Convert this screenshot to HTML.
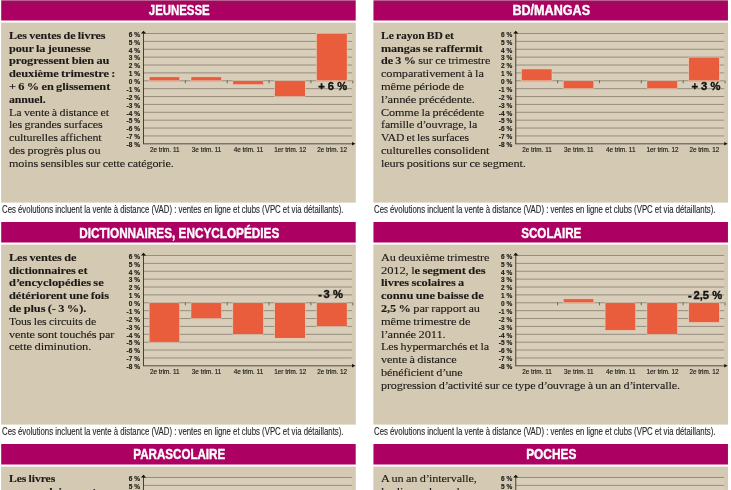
<!DOCTYPE html>
<html lang="fr"><head><meta charset="utf-8"><title>Ventes de livres</title>
<style>
html,body{margin:0;padding:0;background:#fff;}
body{width:731px;height:490px;overflow:hidden;position:relative;font-family:"Liberation Serif",serif;}
.panel{position:absolute;width:354.5px;height:222px;will-change:transform;}
.hdr{position:absolute;left:0;top:0;width:354.5px;height:20.5px;}
.hdr span{position:absolute;left:0.8px;top:0;width:354.5px;text-align:center;font-family:"Liberation Sans",sans-serif;font-weight:bold;font-size:14px;line-height:16px;top:2.9px;color:#fff;white-space:nowrap;-webkit-text-stroke:0.4px #fff;transform-origin:50% 50%;}
.txt{position:absolute;left:7.8px;top:28.75px;font-family:"Liberation Serif",serif;font-size:11.2px;line-height:12.8px;word-spacing:-0.4px;letter-spacing:-0.12px;color:#1c1a17;-webkit-text-stroke:0.1px #1c1a17;white-space:nowrap;transform:translateY(-0.3px) scaleX(1.095);transform-origin:0 0;}
.ln{display:inline-block;transform-origin:0 50%;}
.ap{letter-spacing:-0.9px;}
.txt b{font-weight:bold;-webkit-text-stroke:0.1px #1c1a17;letter-spacing:-0.08px;word-spacing:-0.55px;}
.chart{position:absolute;left:0;top:0;overflow:visible;}
.yl{font-family:"Liberation Sans",sans-serif;font-weight:bold;font-size:6.5px;fill:#1c1a17;stroke:#1c1a17;stroke-width:0.15px;letter-spacing:0.1px;}
.xl{font-family:"Liberation Sans",sans-serif;font-size:6.35px;fill:#1c1a17;stroke:#1c1a17;stroke-width:0.15px;}
.vl{font-family:"Liberation Sans",sans-serif;font-weight:bold;font-size:11.2px;fill:#111;stroke:#111;stroke-width:0.35px;letter-spacing:0px;}
.cap{position:absolute;left:-0.2px;top:204.1px;font-family:"Liberation Sans",sans-serif;font-size:10px;line-height:11px;color:#262626;-webkit-text-stroke:0.12px #262626;white-space:nowrap;transform:scaleX(0.779);transform-origin:0 50%;}
</style></head><body>
<svg width="0" height="0" style="position:absolute"><defs><linearGradient id="hg" x1="0" y1="0" x2="0" y2="1"><stop offset="0" stop-color="#A0095C"/><stop offset="0.15" stop-color="#A0095C"/><stop offset="0.27" stop-color="#AC0062"/><stop offset="1" stop-color="#AC0062"/></linearGradient></defs></svg>
<div class="panel" style="left:1px;top:0px">
<svg class="chart" width="356.5" height="222" viewBox="0 0 356.5 222">
<g transform="translate(0.20,0)">
<rect x="0" y="0.35" width="354.5" height="20.15" fill="url(#hg)"/>
<rect x="-0.1" y="22.6" width="354.7" height="180" fill="#D4C9B3" fill-opacity="0.996"/>
<rect x="142.3" y="33.50" width="208.40" height="110.32" fill="#D8CEB9"/>
<line x1="142.3" y1="33.50" x2="350.7" y2="33.50" stroke="#80786A" stroke-width="0.75"/>
<line x1="142.3" y1="41.38" x2="350.7" y2="41.38" stroke="#80786A" stroke-width="0.75"/>
<line x1="142.3" y1="49.26" x2="350.7" y2="49.26" stroke="#80786A" stroke-width="0.75"/>
<line x1="142.3" y1="57.14" x2="350.7" y2="57.14" stroke="#80786A" stroke-width="0.75"/>
<line x1="142.3" y1="65.02" x2="350.7" y2="65.02" stroke="#80786A" stroke-width="0.75"/>
<line x1="142.3" y1="72.90" x2="350.7" y2="72.90" stroke="#80786A" stroke-width="0.75"/>
<line x1="142.3" y1="80.78" x2="350.7" y2="80.78" stroke="#80786A" stroke-width="0.75"/>
<line x1="142.3" y1="88.66" x2="350.7" y2="88.66" stroke="#80786A" stroke-width="0.75"/>
<line x1="142.3" y1="96.54" x2="350.7" y2="96.54" stroke="#80786A" stroke-width="0.75"/>
<line x1="142.3" y1="104.42" x2="350.7" y2="104.42" stroke="#80786A" stroke-width="0.75"/>
<line x1="142.3" y1="112.30" x2="350.7" y2="112.30" stroke="#80786A" stroke-width="0.75"/>
<line x1="142.3" y1="120.18" x2="350.7" y2="120.18" stroke="#80786A" stroke-width="0.75"/>
<line x1="142.3" y1="128.06" x2="350.7" y2="128.06" stroke="#80786A" stroke-width="0.75"/>
<line x1="142.3" y1="135.94" x2="350.7" y2="135.94" stroke="#80786A" stroke-width="0.75"/>
<line x1="141.8" y1="143.82" x2="351.2" y2="143.82" stroke="#3b3732" stroke-width="0.85"/>
<line x1="142.3" y1="31.50" x2="142.3" y2="143.82" stroke="#35312c" stroke-width="0.9"/>
<path d="M139.70000000000002 33.60 L142.3 30.80 L144.9 33.60 Z" fill="#111"/>
<path d="M350.80 141.92 L354.20 143.72 L350.80 145.52 Z" fill="#111"/>
<line x1="184.15" y1="80.48" x2="184.15" y2="83.28" stroke="#35312c" stroke-width="0.65"/>
<line x1="226.00" y1="80.48" x2="226.00" y2="83.28" stroke="#35312c" stroke-width="0.65"/>
<line x1="267.85" y1="80.48" x2="267.85" y2="83.28" stroke="#35312c" stroke-width="0.65"/>
<line x1="309.70" y1="80.48" x2="309.70" y2="83.28" stroke="#35312c" stroke-width="0.65"/>
<line x1="351.55" y1="80.48" x2="351.55" y2="83.28" stroke="#35312c" stroke-width="0.65"/>
<rect x="147.93" y="76.84" width="30.6" height="3.94" fill="#E95D3C" stroke="#EBDCC8" stroke-width="0.5"/>
<rect x="189.78" y="76.84" width="30.6" height="3.94" fill="#E95D3C" stroke="#EBDCC8" stroke-width="0.5"/>
<rect x="231.62" y="80.78" width="30.6" height="3.94" fill="#E95D3C" stroke="#EBDCC8" stroke-width="0.5"/>
<rect x="273.47" y="80.78" width="30.6" height="15.76" fill="#E95D3C" stroke="#EBDCC8" stroke-width="0.5"/>
<rect x="315.32" y="33.50" width="30.6" height="47.28" fill="#E95D3C" stroke="#EBDCC8" stroke-width="0.5"/>
<g opacity="0.999">
<text x="139.00" y="36.80" text-anchor="end" class="yl">6 %</text>
<text x="139.00" y="44.68" text-anchor="end" class="yl">5 %</text>
<text x="139.00" y="52.56" text-anchor="end" class="yl">4 %</text>
<text x="139.00" y="60.44" text-anchor="end" class="yl">3 %</text>
<text x="139.00" y="68.32" text-anchor="end" class="yl">2 %</text>
<text x="139.00" y="76.20" text-anchor="end" class="yl">1 %</text>
<text x="139.00" y="84.08" text-anchor="end" class="yl">0 %</text>
<text x="139.00" y="91.96" text-anchor="end" class="yl">-1 %</text>
<text x="139.00" y="99.84" text-anchor="end" class="yl">-2 %</text>
<text x="139.00" y="107.72" text-anchor="end" class="yl">-3 %</text>
<text x="139.00" y="115.60" text-anchor="end" class="yl">-4 %</text>
<text x="139.00" y="123.48" text-anchor="end" class="yl">-5 %</text>
<text x="139.00" y="131.36" text-anchor="end" class="yl">-6 %</text>
<text x="139.00" y="139.24" text-anchor="end" class="yl">-7 %</text>
<text x="139.00" y="147.12" text-anchor="end" class="yl">-8 %</text>
<text x="163.53" y="151.8" text-anchor="middle" class="xl">2e trim. 11</text>
<text x="205.38" y="151.8" text-anchor="middle" class="xl">3e trim. 11</text>
<text x="247.23" y="151.8" text-anchor="middle" class="xl">4e trim. 11</text>
<text x="289.07" y="151.8" text-anchor="middle" class="xl">1er trim. 12</text>
<text x="330.93" y="151.8" text-anchor="middle" class="xl">2e trim. 12</text>
<text x="345.90" y="89.98" text-anchor="end" class="vl">+ 6 %</text>
</g></g></svg>
<div class="hdr"><span style="left:1.00px;top:2.4px;transform:scaleX(0.815)">JEUNESSE</span></div>
<div class="txt" style="left:8.00px;transform:translateY(-0.3px) scaleX(1.095)"><span class="ln" style="transform:scaleX(0.9911)"><b>Les ventes de livres</b></span><br><span class="ln" style="transform:scaleX(1.0019)"><b>pour la jeunesse</b></span><br><span class="ln" style="transform:scaleX(1.0084)"><b>progressent bien au</b></span><br><span class="ln" style="transform:scaleX(1.0124)"><b>deuxième trimestre :</b></span><br><span class="ln" style="transform:scaleX(1.0095)"><b>+ 6 % en glissement</b></span><br><span class="ln" style="transform:scaleX(0.9675)"><b>annuel.</b></span><br><span class="ln" style="transform:scaleX(0.9844)">La vente à distance et</span><br><span class="ln" style="transform:scaleX(0.9911)">les grandes surfaces</span><br><span class="ln" style="transform:scaleX(0.9823)">culturelles affichent</span><br><span class="ln" style="transform:scaleX(1.0030)">des progrès plus ou</span><br><span class="ln" style="transform:scaleX(0.9920)">moins sensibles sur cette catégorie.</span></div>
<div class="cap" style="left:0.50px">Ces évolutions incluent la vente à distance (VAD) : ventes en ligne et clubs (VPC et via détaillants).</div>
</div>
<div class="panel" style="left:373px;top:0px">
<svg class="chart" width="356.5" height="222" viewBox="0 0 356.5 222">
<g transform="translate(0.45,0)">
<rect x="0" y="0.35" width="354.5" height="20.15" fill="url(#hg)"/>
<rect x="-0.1" y="22.6" width="354.7" height="180" fill="#D4C9B3" fill-opacity="0.996"/>
<rect x="142.3" y="33.50" width="208.40" height="110.32" fill="#D8CEB9"/>
<line x1="142.3" y1="33.50" x2="350.7" y2="33.50" stroke="#80786A" stroke-width="0.75"/>
<line x1="142.3" y1="41.38" x2="350.7" y2="41.38" stroke="#80786A" stroke-width="0.75"/>
<line x1="142.3" y1="49.26" x2="350.7" y2="49.26" stroke="#80786A" stroke-width="0.75"/>
<line x1="142.3" y1="57.14" x2="350.7" y2="57.14" stroke="#80786A" stroke-width="0.75"/>
<line x1="142.3" y1="65.02" x2="350.7" y2="65.02" stroke="#80786A" stroke-width="0.75"/>
<line x1="142.3" y1="72.90" x2="350.7" y2="72.90" stroke="#80786A" stroke-width="0.75"/>
<line x1="142.3" y1="80.78" x2="350.7" y2="80.78" stroke="#80786A" stroke-width="0.75"/>
<line x1="142.3" y1="88.66" x2="350.7" y2="88.66" stroke="#80786A" stroke-width="0.75"/>
<line x1="142.3" y1="96.54" x2="350.7" y2="96.54" stroke="#80786A" stroke-width="0.75"/>
<line x1="142.3" y1="104.42" x2="350.7" y2="104.42" stroke="#80786A" stroke-width="0.75"/>
<line x1="142.3" y1="112.30" x2="350.7" y2="112.30" stroke="#80786A" stroke-width="0.75"/>
<line x1="142.3" y1="120.18" x2="350.7" y2="120.18" stroke="#80786A" stroke-width="0.75"/>
<line x1="142.3" y1="128.06" x2="350.7" y2="128.06" stroke="#80786A" stroke-width="0.75"/>
<line x1="142.3" y1="135.94" x2="350.7" y2="135.94" stroke="#80786A" stroke-width="0.75"/>
<line x1="141.8" y1="143.82" x2="351.2" y2="143.82" stroke="#3b3732" stroke-width="0.85"/>
<line x1="142.3" y1="31.50" x2="142.3" y2="143.82" stroke="#35312c" stroke-width="0.9"/>
<path d="M139.70000000000002 33.60 L142.3 30.80 L144.9 33.60 Z" fill="#111"/>
<path d="M350.80 141.92 L354.20 143.72 L350.80 145.52 Z" fill="#111"/>
<line x1="184.15" y1="80.48" x2="184.15" y2="83.28" stroke="#35312c" stroke-width="0.65"/>
<line x1="226.00" y1="80.48" x2="226.00" y2="83.28" stroke="#35312c" stroke-width="0.65"/>
<line x1="267.85" y1="80.48" x2="267.85" y2="83.28" stroke="#35312c" stroke-width="0.65"/>
<line x1="309.70" y1="80.48" x2="309.70" y2="83.28" stroke="#35312c" stroke-width="0.65"/>
<line x1="351.55" y1="80.48" x2="351.55" y2="83.28" stroke="#35312c" stroke-width="0.65"/>
<rect x="147.93" y="68.96" width="30.6" height="11.82" fill="#E95D3C" stroke="#EBDCC8" stroke-width="0.5"/>
<rect x="189.78" y="80.78" width="30.6" height="7.88" fill="#E95D3C" stroke="#EBDCC8" stroke-width="0.5"/>
<rect x="273.47" y="80.78" width="30.6" height="7.88" fill="#E95D3C" stroke="#EBDCC8" stroke-width="0.5"/>
<rect x="315.32" y="57.14" width="30.6" height="23.64" fill="#E95D3C" stroke="#EBDCC8" stroke-width="0.5"/>
<g opacity="0.999">
<text x="139.00" y="36.80" text-anchor="end" class="yl">6 %</text>
<text x="139.00" y="44.68" text-anchor="end" class="yl">5 %</text>
<text x="139.00" y="52.56" text-anchor="end" class="yl">4 %</text>
<text x="139.00" y="60.44" text-anchor="end" class="yl">3 %</text>
<text x="139.00" y="68.32" text-anchor="end" class="yl">2 %</text>
<text x="139.00" y="76.20" text-anchor="end" class="yl">1 %</text>
<text x="139.00" y="84.08" text-anchor="end" class="yl">0 %</text>
<text x="139.00" y="91.96" text-anchor="end" class="yl">-1 %</text>
<text x="139.00" y="99.84" text-anchor="end" class="yl">-2 %</text>
<text x="139.00" y="107.72" text-anchor="end" class="yl">-3 %</text>
<text x="139.00" y="115.60" text-anchor="end" class="yl">-4 %</text>
<text x="139.00" y="123.48" text-anchor="end" class="yl">-5 %</text>
<text x="139.00" y="131.36" text-anchor="end" class="yl">-6 %</text>
<text x="139.00" y="139.24" text-anchor="end" class="yl">-7 %</text>
<text x="139.00" y="147.12" text-anchor="end" class="yl">-8 %</text>
<text x="163.53" y="151.8" text-anchor="middle" class="xl">2e trim. 11</text>
<text x="205.38" y="151.8" text-anchor="middle" class="xl">3e trim. 11</text>
<text x="247.23" y="151.8" text-anchor="middle" class="xl">4e trim. 11</text>
<text x="289.07" y="151.8" text-anchor="middle" class="xl">1er trim. 12</text>
<text x="330.93" y="151.8" text-anchor="middle" class="xl">2e trim. 12</text>
<text x="346.90" y="90.18" text-anchor="end" class="vl">+ 3 %</text>
</g></g></svg>
<div class="hdr"><span style="left:1.25px;top:2.4px;transform:scaleX(0.9)">BD/MANGAS</span></div>
<div class="txt" style="left:8.25px;transform:translateY(-0.3px) scaleX(1.095)"><span class="ln" style="transform:scaleX(0.9476)"><b>Le rayon BD et</b></span><br><span class="ln" style="transform:scaleX(0.9960)"><b>mangas se raffermit</b></span><br><span class="ln" style="transform:scaleX(0.9926)"><b>de 3 %</b> sur ce trimestre</span><br><span class="ln" style="transform:scaleX(1.0078)">comparativement à la</span><br><span class="ln" style="transform:scaleX(1.0182)">même période de</span><br><span class="ln" style="transform:scaleX(1.0252)">l<span class="ap">’</span>année précédente.</span><br><span class="ln" style="transform:scaleX(0.9973)">Comme la précédente</span><br><span class="ln" style="transform:scaleX(0.9829)">famille d<span class="ap">’</span>ouvrage, la</span><br><span class="ln" style="transform:scaleX(0.9465)">VAD et les surfaces</span><br><span class="ln" style="transform:scaleX(1.0118)">culturelles consolident</span><br><span class="ln" style="transform:scaleX(1.0030)">leurs positions sur ce segment.</span></div>
<div class="cap" style="left:0.75px">Ces évolutions incluent la vente à distance (VAD) : ventes en ligne et clubs (VPC et via détaillants).</div>
</div>
<div class="panel" style="left:1px;top:222px">
<svg class="chart" width="356.5" height="222" viewBox="0 0 356.5 222">
<g transform="translate(0.20,0)">
<rect x="0" y="0" width="354.5" height="20.5" fill="#AC0062"/>
<rect x="-0.1" y="22.6" width="354.7" height="180" fill="#D4C9B3" fill-opacity="0.996"/>
<rect x="142.3" y="33.50" width="208.40" height="110.32" fill="#D8CEB9"/>
<line x1="142.3" y1="33.50" x2="350.7" y2="33.50" stroke="#80786A" stroke-width="0.75"/>
<line x1="142.3" y1="41.38" x2="350.7" y2="41.38" stroke="#80786A" stroke-width="0.75"/>
<line x1="142.3" y1="49.26" x2="350.7" y2="49.26" stroke="#80786A" stroke-width="0.75"/>
<line x1="142.3" y1="57.14" x2="350.7" y2="57.14" stroke="#80786A" stroke-width="0.75"/>
<line x1="142.3" y1="65.02" x2="350.7" y2="65.02" stroke="#80786A" stroke-width="0.75"/>
<line x1="142.3" y1="72.90" x2="350.7" y2="72.90" stroke="#80786A" stroke-width="0.75"/>
<line x1="142.3" y1="80.78" x2="350.7" y2="80.78" stroke="#80786A" stroke-width="0.75"/>
<line x1="142.3" y1="88.66" x2="350.7" y2="88.66" stroke="#80786A" stroke-width="0.75"/>
<line x1="142.3" y1="96.54" x2="350.7" y2="96.54" stroke="#80786A" stroke-width="0.75"/>
<line x1="142.3" y1="104.42" x2="350.7" y2="104.42" stroke="#80786A" stroke-width="0.75"/>
<line x1="142.3" y1="112.30" x2="350.7" y2="112.30" stroke="#80786A" stroke-width="0.75"/>
<line x1="142.3" y1="120.18" x2="350.7" y2="120.18" stroke="#80786A" stroke-width="0.75"/>
<line x1="142.3" y1="128.06" x2="350.7" y2="128.06" stroke="#80786A" stroke-width="0.75"/>
<line x1="142.3" y1="135.94" x2="350.7" y2="135.94" stroke="#80786A" stroke-width="0.75"/>
<line x1="141.8" y1="143.82" x2="351.2" y2="143.82" stroke="#3b3732" stroke-width="0.85"/>
<line x1="142.3" y1="31.50" x2="142.3" y2="143.82" stroke="#35312c" stroke-width="0.9"/>
<path d="M139.70000000000002 33.60 L142.3 30.80 L144.9 33.60 Z" fill="#111"/>
<path d="M350.80 141.92 L354.20 143.72 L350.80 145.52 Z" fill="#111"/>
<line x1="184.15" y1="80.48" x2="184.15" y2="83.28" stroke="#35312c" stroke-width="0.65"/>
<line x1="226.00" y1="80.48" x2="226.00" y2="83.28" stroke="#35312c" stroke-width="0.65"/>
<line x1="267.85" y1="80.48" x2="267.85" y2="83.28" stroke="#35312c" stroke-width="0.65"/>
<line x1="309.70" y1="80.48" x2="309.70" y2="83.28" stroke="#35312c" stroke-width="0.65"/>
<line x1="351.55" y1="80.48" x2="351.55" y2="83.28" stroke="#35312c" stroke-width="0.65"/>
<rect x="147.93" y="80.78" width="30.6" height="39.40" fill="#E95D3C" stroke="#EBDCC8" stroke-width="0.5"/>
<rect x="189.78" y="80.78" width="30.6" height="15.76" fill="#E95D3C" stroke="#EBDCC8" stroke-width="0.5"/>
<rect x="231.62" y="80.78" width="30.6" height="31.52" fill="#E95D3C" stroke="#EBDCC8" stroke-width="0.5"/>
<rect x="273.47" y="80.78" width="30.6" height="35.46" fill="#E95D3C" stroke="#EBDCC8" stroke-width="0.5"/>
<rect x="315.32" y="80.78" width="30.6" height="23.64" fill="#E95D3C" stroke="#EBDCC8" stroke-width="0.5"/>
<g opacity="0.999">
<text x="139.00" y="36.80" text-anchor="end" class="yl">6 %</text>
<text x="139.00" y="44.68" text-anchor="end" class="yl">5 %</text>
<text x="139.00" y="52.56" text-anchor="end" class="yl">4 %</text>
<text x="139.00" y="60.44" text-anchor="end" class="yl">3 %</text>
<text x="139.00" y="68.32" text-anchor="end" class="yl">2 %</text>
<text x="139.00" y="76.20" text-anchor="end" class="yl">1 %</text>
<text x="139.00" y="84.08" text-anchor="end" class="yl">0 %</text>
<text x="139.00" y="91.96" text-anchor="end" class="yl">-1 %</text>
<text x="139.00" y="99.84" text-anchor="end" class="yl">-2 %</text>
<text x="139.00" y="107.72" text-anchor="end" class="yl">-3 %</text>
<text x="139.00" y="115.60" text-anchor="end" class="yl">-4 %</text>
<text x="139.00" y="123.48" text-anchor="end" class="yl">-5 %</text>
<text x="139.00" y="131.36" text-anchor="end" class="yl">-6 %</text>
<text x="139.00" y="139.24" text-anchor="end" class="yl">-7 %</text>
<text x="139.00" y="147.12" text-anchor="end" class="yl">-8 %</text>
<text x="163.53" y="151.8" text-anchor="middle" class="xl">2e trim. 11</text>
<text x="205.38" y="151.8" text-anchor="middle" class="xl">3e trim. 11</text>
<text x="247.23" y="151.8" text-anchor="middle" class="xl">4e trim. 11</text>
<text x="289.07" y="151.8" text-anchor="middle" class="xl">1er trim. 12</text>
<text x="330.93" y="151.8" text-anchor="middle" class="xl">2e trim. 12</text>
<text x="341.70" y="75.68" text-anchor="end" class="vl">-<tspan dx="1.6">3 %</tspan></text>
</g></g></svg>
<div class="hdr"><span style="left:1.00px;top:2.9px;transform:scaleX(0.84)">DICTIONNAIRES, ENCYCLOPÉDIES</span></div>
<div class="txt" style="left:8.00px;transform:translateY(-0.3px) scaleX(1.095)"><span class="ln" style="transform:scaleX(1.0034)"><b>Les ventes de</b></span><br><span class="ln" style="transform:scaleX(1.0000)"><b>dictionnaires et</b></span><br><span class="ln" style="transform:scaleX(1.0221)"><b>d<span class="ap">’</span>encyclopédies se</b></span><br><span class="ln" style="transform:scaleX(1.0102)"><b>détériorent une fois</b></span><br><span class="ln" style="transform:scaleX(1.0139)"><b>de plus (- 3 %).</b></span><br><span class="ln" style="transform:scaleX(0.9657)">Tous les circuits de</span><br><span class="ln" style="transform:scaleX(1.0023)">vente sont touchés par</span><br><span class="ln" style="transform:scaleX(1.0227)">cette diminution.</span></div>
<div class="cap" style="left:0.50px">Ces évolutions incluent la vente à distance (VAD) : ventes en ligne et clubs (VPC et via détaillants).</div>
</div>
<div class="panel" style="left:373px;top:222px">
<svg class="chart" width="356.5" height="222" viewBox="0 0 356.5 222">
<g transform="translate(0.45,0)">
<rect x="0" y="0" width="354.5" height="20.5" fill="#AC0062"/>
<rect x="-0.1" y="22.6" width="354.7" height="180" fill="#D4C9B3" fill-opacity="0.996"/>
<rect x="142.3" y="33.50" width="208.40" height="110.32" fill="#D8CEB9"/>
<line x1="142.3" y1="33.50" x2="350.7" y2="33.50" stroke="#80786A" stroke-width="0.75"/>
<line x1="142.3" y1="41.38" x2="350.7" y2="41.38" stroke="#80786A" stroke-width="0.75"/>
<line x1="142.3" y1="49.26" x2="350.7" y2="49.26" stroke="#80786A" stroke-width="0.75"/>
<line x1="142.3" y1="57.14" x2="350.7" y2="57.14" stroke="#80786A" stroke-width="0.75"/>
<line x1="142.3" y1="65.02" x2="350.7" y2="65.02" stroke="#80786A" stroke-width="0.75"/>
<line x1="142.3" y1="72.90" x2="350.7" y2="72.90" stroke="#80786A" stroke-width="0.75"/>
<line x1="142.3" y1="80.78" x2="350.7" y2="80.78" stroke="#80786A" stroke-width="0.75"/>
<line x1="142.3" y1="88.66" x2="350.7" y2="88.66" stroke="#80786A" stroke-width="0.75"/>
<line x1="142.3" y1="96.54" x2="350.7" y2="96.54" stroke="#80786A" stroke-width="0.75"/>
<line x1="142.3" y1="104.42" x2="350.7" y2="104.42" stroke="#80786A" stroke-width="0.75"/>
<line x1="142.3" y1="112.30" x2="350.7" y2="112.30" stroke="#80786A" stroke-width="0.75"/>
<line x1="142.3" y1="120.18" x2="350.7" y2="120.18" stroke="#80786A" stroke-width="0.75"/>
<line x1="142.3" y1="128.06" x2="350.7" y2="128.06" stroke="#80786A" stroke-width="0.75"/>
<line x1="142.3" y1="135.94" x2="350.7" y2="135.94" stroke="#80786A" stroke-width="0.75"/>
<line x1="141.8" y1="143.82" x2="351.2" y2="143.82" stroke="#3b3732" stroke-width="0.85"/>
<line x1="142.3" y1="31.50" x2="142.3" y2="143.82" stroke="#35312c" stroke-width="0.9"/>
<path d="M139.70000000000002 33.60 L142.3 30.80 L144.9 33.60 Z" fill="#111"/>
<path d="M350.80 141.92 L354.20 143.72 L350.80 145.52 Z" fill="#111"/>
<line x1="184.15" y1="80.48" x2="184.15" y2="83.28" stroke="#35312c" stroke-width="0.65"/>
<line x1="226.00" y1="80.48" x2="226.00" y2="83.28" stroke="#35312c" stroke-width="0.65"/>
<line x1="267.85" y1="80.48" x2="267.85" y2="83.28" stroke="#35312c" stroke-width="0.65"/>
<line x1="309.70" y1="80.48" x2="309.70" y2="83.28" stroke="#35312c" stroke-width="0.65"/>
<line x1="351.55" y1="80.48" x2="351.55" y2="83.28" stroke="#35312c" stroke-width="0.65"/>
<rect x="189.78" y="76.84" width="30.6" height="3.94" fill="#E95D3C" stroke="#EBDCC8" stroke-width="0.5"/>
<rect x="231.62" y="80.78" width="30.6" height="27.58" fill="#E95D3C" stroke="#EBDCC8" stroke-width="0.5"/>
<rect x="273.47" y="80.78" width="30.6" height="31.52" fill="#E95D3C" stroke="#EBDCC8" stroke-width="0.5"/>
<rect x="315.32" y="80.78" width="30.6" height="19.70" fill="#E95D3C" stroke="#EBDCC8" stroke-width="0.5"/>
<g opacity="0.999">
<text x="139.00" y="36.80" text-anchor="end" class="yl">6 %</text>
<text x="139.00" y="44.68" text-anchor="end" class="yl">5 %</text>
<text x="139.00" y="52.56" text-anchor="end" class="yl">4 %</text>
<text x="139.00" y="60.44" text-anchor="end" class="yl">3 %</text>
<text x="139.00" y="68.32" text-anchor="end" class="yl">2 %</text>
<text x="139.00" y="76.20" text-anchor="end" class="yl">1 %</text>
<text x="139.00" y="84.08" text-anchor="end" class="yl">0 %</text>
<text x="139.00" y="91.96" text-anchor="end" class="yl">-1 %</text>
<text x="139.00" y="99.84" text-anchor="end" class="yl">-2 %</text>
<text x="139.00" y="107.72" text-anchor="end" class="yl">-3 %</text>
<text x="139.00" y="115.60" text-anchor="end" class="yl">-4 %</text>
<text x="139.00" y="123.48" text-anchor="end" class="yl">-5 %</text>
<text x="139.00" y="131.36" text-anchor="end" class="yl">-6 %</text>
<text x="139.00" y="139.24" text-anchor="end" class="yl">-7 %</text>
<text x="139.00" y="147.12" text-anchor="end" class="yl">-8 %</text>
<text x="163.53" y="151.8" text-anchor="middle" class="xl">2e trim. 11</text>
<text x="205.38" y="151.8" text-anchor="middle" class="xl">3e trim. 11</text>
<text x="247.23" y="151.8" text-anchor="middle" class="xl">4e trim. 11</text>
<text x="289.07" y="151.8" text-anchor="middle" class="xl">1er trim. 12</text>
<text x="330.93" y="151.8" text-anchor="middle" class="xl">2e trim. 12</text>
<text x="348.70" y="76.63" text-anchor="end" class="vl">-<tspan dx="1.8">2,5 %</tspan></text>
</g></g></svg>
<div class="hdr"><span style="left:1.25px;top:2.9px;transform:scaleX(0.83)">SCOLAIRE</span></div>
<div class="txt" style="left:8.25px;transform:translateY(-0.3px) scaleX(1.095)"><span class="ln" style="transform:scaleX(0.9972)">Au deuxième trimestre</span><br><span class="ln" style="transform:scaleX(1.0261)">2012, l<b>e segment des</b></span><br><span class="ln" style="transform:scaleX(1.0084)"><b>livres scolaires a</b></span><br><span class="ln" style="transform:scaleX(1.0227)"><b>connu une baisse de</b></span><br><span class="ln" style="transform:scaleX(1.0078)"><b>2,5 %</b> par rapport au</span><br><span class="ln" style="transform:scaleX(1.0138)">même trimestre de</span><br><span class="ln" style="transform:scaleX(1.0204)">l<span class="ap">’</span>année 2011.</span><br><span class="ln" style="transform:scaleX(0.9894)">Les hypermarchés et la</span><br><span class="ln" style="transform:scaleX(1.0033)">vente à distance</span><br><span class="ln" style="transform:scaleX(0.9974)">bénéficient d<span class="ap">’</span>une</span><br><span class="ln" style="transform:scaleX(0.9926)">progression d<span class="ap">’</span>activité sur ce type d<span class="ap">’</span>ouvrage à un an d<span class="ap">’</span>intervalle.</span></div>
<div class="cap" style="left:0.75px">Ces évolutions incluent la vente à distance (VAD) : ventes en ligne et clubs (VPC et via détaillants).</div>
</div>
<div class="panel" style="left:1px;top:444px">
<svg class="chart" width="356.5" height="222" viewBox="0 0 356.5 222">
<g transform="translate(0.20,0)">
<rect x="0" y="0" width="354.5" height="20.5" fill="#AC0062"/>
<rect x="-0.1" y="22.6" width="354.7" height="180" fill="#D4C9B3" fill-opacity="0.996"/>
<rect x="142.3" y="33.50" width="208.40" height="110.32" fill="#D8CEB9"/>
<line x1="142.3" y1="33.50" x2="350.7" y2="33.50" stroke="#80786A" stroke-width="0.75"/>
<line x1="142.3" y1="41.38" x2="350.7" y2="41.38" stroke="#80786A" stroke-width="0.75"/>
<line x1="142.3" y1="49.26" x2="350.7" y2="49.26" stroke="#80786A" stroke-width="0.75"/>
<line x1="142.3" y1="57.14" x2="350.7" y2="57.14" stroke="#80786A" stroke-width="0.75"/>
<line x1="142.3" y1="65.02" x2="350.7" y2="65.02" stroke="#80786A" stroke-width="0.75"/>
<line x1="142.3" y1="72.90" x2="350.7" y2="72.90" stroke="#80786A" stroke-width="0.75"/>
<line x1="142.3" y1="80.78" x2="350.7" y2="80.78" stroke="#80786A" stroke-width="0.75"/>
<line x1="142.3" y1="88.66" x2="350.7" y2="88.66" stroke="#80786A" stroke-width="0.75"/>
<line x1="142.3" y1="96.54" x2="350.7" y2="96.54" stroke="#80786A" stroke-width="0.75"/>
<line x1="142.3" y1="104.42" x2="350.7" y2="104.42" stroke="#80786A" stroke-width="0.75"/>
<line x1="142.3" y1="112.30" x2="350.7" y2="112.30" stroke="#80786A" stroke-width="0.75"/>
<line x1="142.3" y1="120.18" x2="350.7" y2="120.18" stroke="#80786A" stroke-width="0.75"/>
<line x1="142.3" y1="128.06" x2="350.7" y2="128.06" stroke="#80786A" stroke-width="0.75"/>
<line x1="142.3" y1="135.94" x2="350.7" y2="135.94" stroke="#80786A" stroke-width="0.75"/>
<line x1="141.8" y1="143.82" x2="351.2" y2="143.82" stroke="#3b3732" stroke-width="0.85"/>
<line x1="142.3" y1="31.50" x2="142.3" y2="143.82" stroke="#35312c" stroke-width="0.9"/>
<path d="M139.70000000000002 33.60 L142.3 30.80 L144.9 33.60 Z" fill="#111"/>
<path d="M350.80 141.92 L354.20 143.72 L350.80 145.52 Z" fill="#111"/>
<line x1="184.15" y1="80.48" x2="184.15" y2="83.28" stroke="#35312c" stroke-width="0.65"/>
<line x1="226.00" y1="80.48" x2="226.00" y2="83.28" stroke="#35312c" stroke-width="0.65"/>
<line x1="267.85" y1="80.48" x2="267.85" y2="83.28" stroke="#35312c" stroke-width="0.65"/>
<line x1="309.70" y1="80.48" x2="309.70" y2="83.28" stroke="#35312c" stroke-width="0.65"/>
<line x1="351.55" y1="80.48" x2="351.55" y2="83.28" stroke="#35312c" stroke-width="0.65"/>
<rect x="147.93" y="76.84" width="30.6" height="3.94" fill="#E95D3C" stroke="#EBDCC8" stroke-width="0.5"/>
<rect x="189.78" y="72.90" width="30.6" height="7.88" fill="#E95D3C" stroke="#EBDCC8" stroke-width="0.5"/>
<rect x="231.62" y="80.78" width="30.6" height="3.94" fill="#E95D3C" stroke="#EBDCC8" stroke-width="0.5"/>
<rect x="273.47" y="80.78" width="30.6" height="7.88" fill="#E95D3C" stroke="#EBDCC8" stroke-width="0.5"/>
<rect x="315.32" y="65.02" width="30.6" height="15.76" fill="#E95D3C" stroke="#EBDCC8" stroke-width="0.5"/>
<g opacity="0.999">
<text x="139.00" y="36.80" text-anchor="end" class="yl">6 %</text>
<text x="139.00" y="44.68" text-anchor="end" class="yl">5 %</text>
<text x="139.00" y="52.56" text-anchor="end" class="yl">4 %</text>
<text x="139.00" y="60.44" text-anchor="end" class="yl">3 %</text>
<text x="139.00" y="68.32" text-anchor="end" class="yl">2 %</text>
<text x="139.00" y="76.20" text-anchor="end" class="yl">1 %</text>
<text x="139.00" y="84.08" text-anchor="end" class="yl">0 %</text>
<text x="139.00" y="91.96" text-anchor="end" class="yl">-1 %</text>
<text x="139.00" y="99.84" text-anchor="end" class="yl">-2 %</text>
<text x="139.00" y="107.72" text-anchor="end" class="yl">-3 %</text>
<text x="139.00" y="115.60" text-anchor="end" class="yl">-4 %</text>
<text x="139.00" y="123.48" text-anchor="end" class="yl">-5 %</text>
<text x="139.00" y="131.36" text-anchor="end" class="yl">-6 %</text>
<text x="139.00" y="139.24" text-anchor="end" class="yl">-7 %</text>
<text x="139.00" y="147.12" text-anchor="end" class="yl">-8 %</text>
<text x="163.53" y="151.8" text-anchor="middle" class="xl">2e trim. 11</text>
<text x="205.38" y="151.8" text-anchor="middle" class="xl">3e trim. 11</text>
<text x="247.23" y="151.8" text-anchor="middle" class="xl">4e trim. 11</text>
<text x="289.07" y="151.8" text-anchor="middle" class="xl">1er trim. 12</text>
<text x="330.93" y="151.8" text-anchor="middle" class="xl">2e trim. 12</text>
<text x="346.00" y="89.98" text-anchor="end" class="vl">+ 2 %</text>
</g></g></svg>
<div class="hdr"><span style="left:1.00px;top:2.4px;transform:scaleX(0.828)">PARASCOLAIRE</span></div>
<div class="txt" style="left:8.00px;transform:translateY(-0.8px) scaleX(1.095)"><span class="ln" style="transform:scaleX(0.9560)"><b>Les livres</b></span><br><span class="ln" style="transform:scaleX(1.0000)"><b>parascolaires ont</b></span><br><span class="ln" style="transform:scaleX(1.0000)"><b>bien progressé</b></span></div>
<div class="cap" style="left:0.50px">Ces évolutions incluent la vente à distance (VAD) : ventes en ligne et clubs (VPC et via détaillants).</div>
</div>
<div class="panel" style="left:373px;top:444px">
<svg class="chart" width="356.5" height="222" viewBox="0 0 356.5 222">
<g transform="translate(0.45,0)">
<rect x="0" y="0" width="354.5" height="20.5" fill="#AC0062"/>
<rect x="-0.1" y="22.6" width="354.7" height="180" fill="#D4C9B3" fill-opacity="0.996"/>
<rect x="142.3" y="33.50" width="208.40" height="110.32" fill="#D8CEB9"/>
<line x1="142.3" y1="33.50" x2="350.7" y2="33.50" stroke="#80786A" stroke-width="0.75"/>
<line x1="142.3" y1="41.38" x2="350.7" y2="41.38" stroke="#80786A" stroke-width="0.75"/>
<line x1="142.3" y1="49.26" x2="350.7" y2="49.26" stroke="#80786A" stroke-width="0.75"/>
<line x1="142.3" y1="57.14" x2="350.7" y2="57.14" stroke="#80786A" stroke-width="0.75"/>
<line x1="142.3" y1="65.02" x2="350.7" y2="65.02" stroke="#80786A" stroke-width="0.75"/>
<line x1="142.3" y1="72.90" x2="350.7" y2="72.90" stroke="#80786A" stroke-width="0.75"/>
<line x1="142.3" y1="80.78" x2="350.7" y2="80.78" stroke="#80786A" stroke-width="0.75"/>
<line x1="142.3" y1="88.66" x2="350.7" y2="88.66" stroke="#80786A" stroke-width="0.75"/>
<line x1="142.3" y1="96.54" x2="350.7" y2="96.54" stroke="#80786A" stroke-width="0.75"/>
<line x1="142.3" y1="104.42" x2="350.7" y2="104.42" stroke="#80786A" stroke-width="0.75"/>
<line x1="142.3" y1="112.30" x2="350.7" y2="112.30" stroke="#80786A" stroke-width="0.75"/>
<line x1="142.3" y1="120.18" x2="350.7" y2="120.18" stroke="#80786A" stroke-width="0.75"/>
<line x1="142.3" y1="128.06" x2="350.7" y2="128.06" stroke="#80786A" stroke-width="0.75"/>
<line x1="142.3" y1="135.94" x2="350.7" y2="135.94" stroke="#80786A" stroke-width="0.75"/>
<line x1="141.8" y1="143.82" x2="351.2" y2="143.82" stroke="#3b3732" stroke-width="0.85"/>
<line x1="142.3" y1="31.50" x2="142.3" y2="143.82" stroke="#35312c" stroke-width="0.9"/>
<path d="M139.70000000000002 33.60 L142.3 30.80 L144.9 33.60 Z" fill="#111"/>
<path d="M350.80 141.92 L354.20 143.72 L350.80 145.52 Z" fill="#111"/>
<line x1="184.15" y1="80.48" x2="184.15" y2="83.28" stroke="#35312c" stroke-width="0.65"/>
<line x1="226.00" y1="80.48" x2="226.00" y2="83.28" stroke="#35312c" stroke-width="0.65"/>
<line x1="267.85" y1="80.48" x2="267.85" y2="83.28" stroke="#35312c" stroke-width="0.65"/>
<line x1="309.70" y1="80.48" x2="309.70" y2="83.28" stroke="#35312c" stroke-width="0.65"/>
<line x1="351.55" y1="80.48" x2="351.55" y2="83.28" stroke="#35312c" stroke-width="0.65"/>
<rect x="147.93" y="76.84" width="30.6" height="3.94" fill="#E95D3C" stroke="#EBDCC8" stroke-width="0.5"/>
<rect x="189.78" y="80.78" width="30.6" height="7.88" fill="#E95D3C" stroke="#EBDCC8" stroke-width="0.5"/>
<rect x="231.62" y="76.84" width="30.6" height="3.94" fill="#E95D3C" stroke="#EBDCC8" stroke-width="0.5"/>
<rect x="273.47" y="80.78" width="30.6" height="15.76" fill="#E95D3C" stroke="#EBDCC8" stroke-width="0.5"/>
<rect x="315.32" y="72.90" width="30.6" height="7.88" fill="#E95D3C" stroke="#EBDCC8" stroke-width="0.5"/>
<g opacity="0.999">
<text x="139.00" y="36.80" text-anchor="end" class="yl">6 %</text>
<text x="139.00" y="44.68" text-anchor="end" class="yl">5 %</text>
<text x="139.00" y="52.56" text-anchor="end" class="yl">4 %</text>
<text x="139.00" y="60.44" text-anchor="end" class="yl">3 %</text>
<text x="139.00" y="68.32" text-anchor="end" class="yl">2 %</text>
<text x="139.00" y="76.20" text-anchor="end" class="yl">1 %</text>
<text x="139.00" y="84.08" text-anchor="end" class="yl">0 %</text>
<text x="139.00" y="91.96" text-anchor="end" class="yl">-1 %</text>
<text x="139.00" y="99.84" text-anchor="end" class="yl">-2 %</text>
<text x="139.00" y="107.72" text-anchor="end" class="yl">-3 %</text>
<text x="139.00" y="115.60" text-anchor="end" class="yl">-4 %</text>
<text x="139.00" y="123.48" text-anchor="end" class="yl">-5 %</text>
<text x="139.00" y="131.36" text-anchor="end" class="yl">-6 %</text>
<text x="139.00" y="139.24" text-anchor="end" class="yl">-7 %</text>
<text x="139.00" y="147.12" text-anchor="end" class="yl">-8 %</text>
<text x="163.53" y="151.8" text-anchor="middle" class="xl">2e trim. 11</text>
<text x="205.38" y="151.8" text-anchor="middle" class="xl">3e trim. 11</text>
<text x="247.23" y="151.8" text-anchor="middle" class="xl">4e trim. 11</text>
<text x="289.07" y="151.8" text-anchor="middle" class="xl">1er trim. 12</text>
<text x="330.93" y="151.8" text-anchor="middle" class="xl">2e trim. 12</text>
<text x="346.00" y="89.98" text-anchor="end" class="vl">+ 1 %</text>
</g></g></svg>
<div class="hdr"><span style="left:1.25px;top:2.4px;transform:scaleX(0.848)">POCHES</span></div>
<div class="txt" style="left:8.25px;transform:translateY(-0.8px) scaleX(1.095)"><span class="ln" style="transform:scaleX(1.0000)">A un an d<span class="ap">’</span>intervalle,</span><br><span class="ln" style="transform:scaleX(1.0000)">les livres de poche</span><br><span class="ln" style="transform:scaleX(1.0000)">progressent</span></div>
<div class="cap" style="left:0.75px">Ces évolutions incluent la vente à distance (VAD) : ventes en ligne et clubs (VPC et via détaillants).</div>
</div>
</body></html>
